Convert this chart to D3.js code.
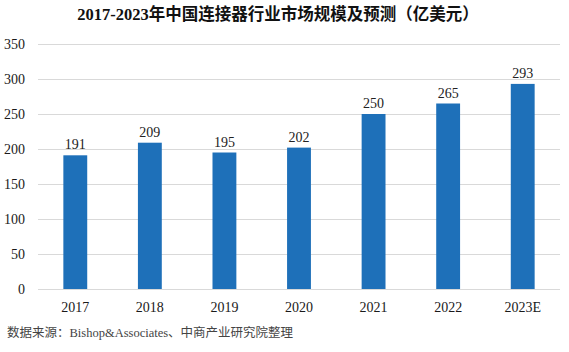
<!DOCTYPE html>
<html>
<head>
    <meta charset="UTF-8">
    <title>连接器市场规模</title>
    <script src="https://d3js.org/d3.v7.min.js"></script>
    <style>
        body { margin: 0; background: #fff; }
        svg text { font-family: "Liberation Serif", "Noto Sans CJK SC", serif; }
        .title { font-size: 16.5px; font-weight: bold; fill: #111; }
        .tick-label { font-size: 14px; fill: #1a1a1a; }
        .value-label { font-size: 14px; fill: #222; }
        .source { font-size: 12.5px; fill: #444; }
    </style>
</head>
<body>
    <script>
        var years = ["2017", "2018", "2019", "2020", "2021", "2022", "2023E"];
        var sizes = [191, 209, 195, 202, 250, 265, 293];
        var yTicks = [0, 50, 100, 150, 200, 250, 300, 350];

        var width = 569, height = 352;
        var plotLeft = 38, plotRight = 560, plotTop = 44, plotBottom = 289;

        var svg = d3.select("body").append("svg")
            .attr("width", width).attr("height", height);

        var x = d3.scaleBand().domain(years).range([plotLeft, plotRight]).paddingInner(0.68).paddingOuter(0.34);
        var y = d3.scaleLinear().domain([0, 350]).range([plotBottom, plotTop]);

        // gridlines
        svg.append("g").selectAll("line").data(yTicks).enter().append("line")
            .attr("x1", plotLeft).attr("x2", plotRight)
            .attr("y1", function (d) { return y(d) + 0.5; })
            .attr("y2", function (d) { return y(d) + 0.5; })
            .attr("stroke", "#d9d9d9").attr("stroke-width", 1);

        // y tick labels
        svg.append("g").selectAll("text").data(yTicks).enter().append("text")
            .classed("tick-label", true)
            .attr("x", 25).attr("y", function (d) { return y(d); })
            .attr("dy", "0.35em").attr("text-anchor", "end")
            .text(function (d) { return d; });

        // bars
        svg.append("g").selectAll("rect").data(sizes).enter().append("rect")
            .attr("x", function (d, i) { return x(years[i]); })
            .attr("y", function (d) { return y(d); })
            .attr("width", x.bandwidth())
            .attr("height", function (d) { return plotBottom - y(d); })
            .attr("fill", "#1e70b9");

        // value labels
        svg.append("g").selectAll("text").data(sizes).enter().append("text")
            .classed("value-label", true)
            .attr("x", function (d, i) { return x(years[i]) + x.bandwidth() / 2; })
            .attr("y", function (d) { return y(d) - 6; })
            .attr("text-anchor", "middle")
            .text(function (d) { return d; });

        // x labels
        svg.append("g").selectAll("text").data(years).enter().append("text")
            .classed("tick-label", true)
            .attr("x", function (d) { return x(d) + x.bandwidth() / 2; })
            .attr("y", 307).attr("dy", "0.35em")
            .attr("text-anchor", "middle")
            .text(function (d) { return d; });

        svg.append("text").classed("title", true)
            .attr("x", 278).attr("y", 20).attr("text-anchor", "middle")
            .text("2017-2023年中国连接器行业市场规模及预测（亿美元）");

        svg.append("text").classed("source", true)
            .attr("x", 7).attr("y", 337)
            .text("数据来源：Bishop&Associates、中商产业研究院整理");
    </script>
</body>
</html>
